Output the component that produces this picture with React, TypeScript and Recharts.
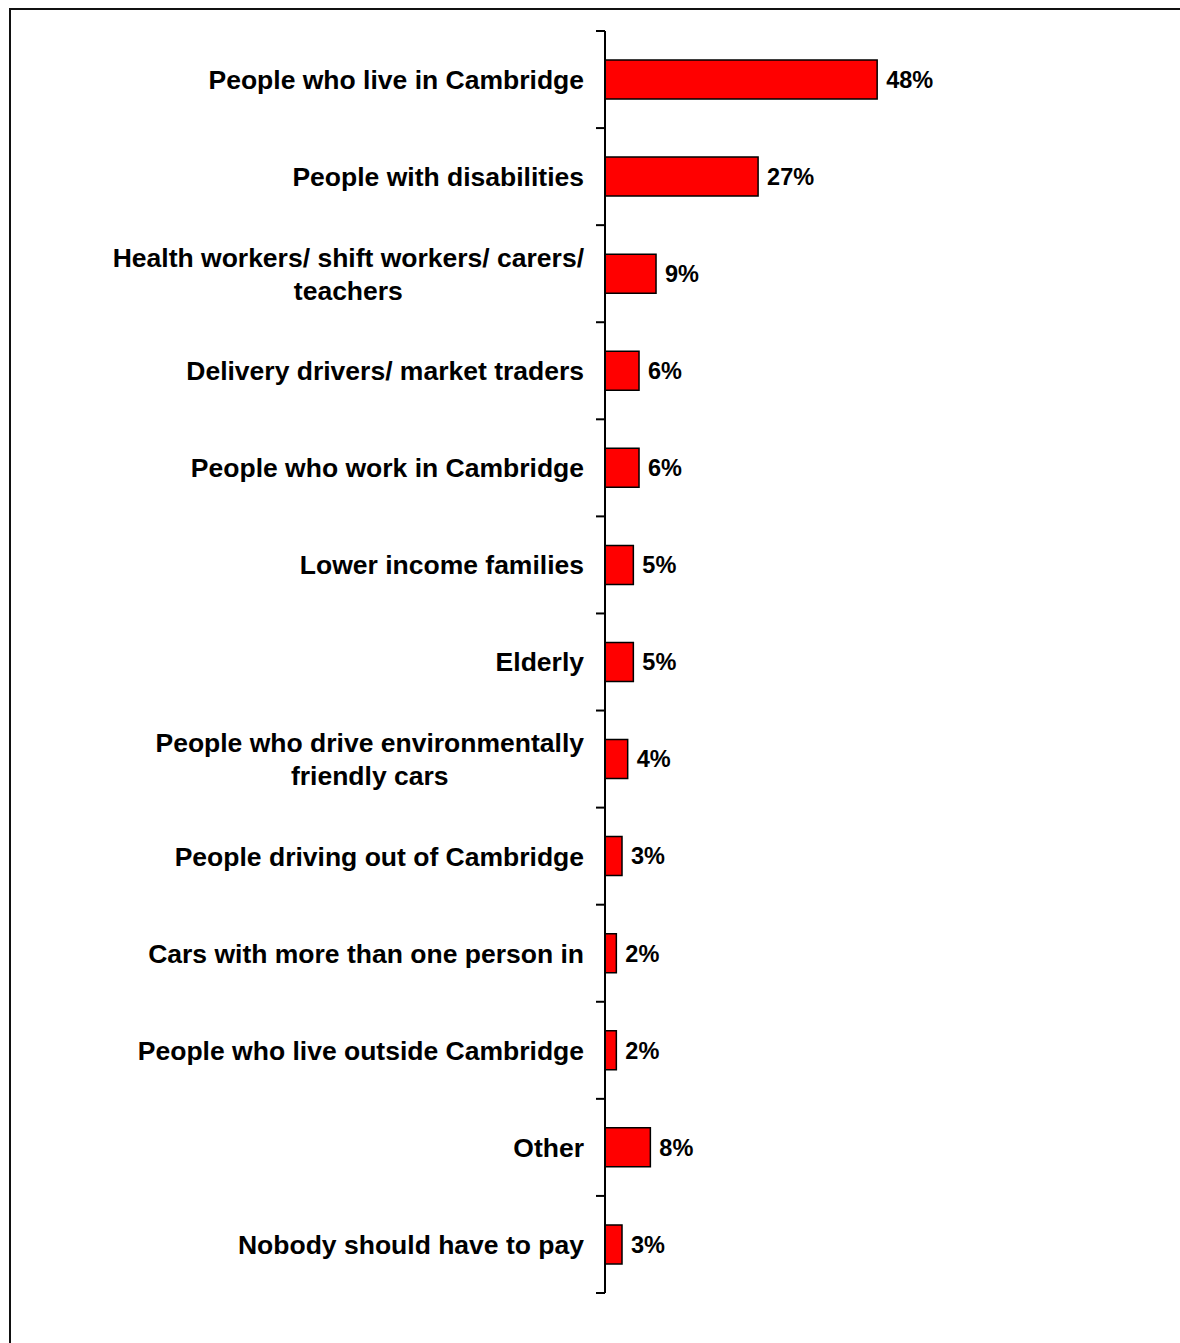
import React from 'react'
import { BarChart, Bar, XAxis, YAxis, LabelList } from 'recharts'

// categories, top to bottom ("\n" marks a line break in the axis label)
const categories = [
  'People who live in Cambridge',
  'People with disabilities',
  'Health workers/ shift workers/ carers/\nteachers',
  'Delivery drivers/ market traders',
  'People who work in Cambridge',
  'Lower income families',
  'Elderly',
  'People who drive environmentally\nfriendly cars',
  'People driving out of Cambridge',
  'Cars with more than one person in',
  'People who live outside Cambridge',
  'Other',
  'Nobody should have to pay',
]

const values = [48, 27, 9, 6, 6, 5, 5, 4, 3, 2, 2, 8, 3]

const chartData = categories.map((name, i) => ({ name, value: values[i] }))

const FONT = '"Liberation Sans", Arial, Helvetica, sans-serif'
const FONT_SIZE = 26.5
const VALUE_FONT_SIZE = 23.5
const TICK_SIZE = 9
const TICK_MARGIN = 12
const LINE_H = 33

let ctx: CanvasRenderingContext2D | null = null
function textWidth(s: string) {
  if (!ctx) {
    const c = document.createElement('canvas')
    ctx = c.getContext('2d')
  }
  if (!ctx) return s.length * FONT_SIZE * 0.6
  ctx.font = `bold ${FONT_SIZE}px ${FONT}`
  return ctx.measureText(s).width
}

function CategoryTick(props: any) {
  const { x, y, payload, index } = props
  const lines = String(payload.value).split('\n')
  const half = payload.offset ?? 0
  const lx1 = x + TICK_MARGIN
  const lx2 = lx1 + TICK_SIZE
  const isLast = index === categories.length - 1
  const multi = lines.length > 1
  const maxW = multi ? Math.max(...lines.map(textWidth)) : 0
  const cx = x - maxW / 2
  const startY = y - ((lines.length - 1) * LINE_H) / 2

  return (
    <g>
      <line x1={lx1} x2={lx2} y1={y - half} y2={y - half} stroke="#000" strokeWidth={2} />
      {isLast && <line x1={lx1} x2={lx2} y1={y + half} y2={y + half} stroke="#000" strokeWidth={2} />}
      <text
        fontFamily={FONT}
        fontWeight="bold"
        fontSize={FONT_SIZE}
        fill="#000"
        textAnchor={multi ? 'middle' : 'end'}
      >
        {lines.map((l, i) => (
          <tspan key={i} x={multi ? cx : x} y={startY + i * LINE_H} dy="0.355em">
            {l}
          </tspan>
        ))}
      </text>
    </g>
  )
}

export default function App() {
  return (
    <div
      style={{
        position: 'absolute',
        left: 0,
        top: 0,
        width: 1180,
        height: 1343,
        overflow: 'hidden',
        background: '#fff',
      }}
    >
      {/* frame: only top and left edges fall inside the picture */}
      <div
        style={{
          position: 'absolute',
          left: 9,
          top: 8,
          width: 1300,
          height: 1500,
          border: '2px solid #111',
        }}
      />
      <div style={{ position: 'absolute', left: 0, top: 0 }}>
        <BarChart
          width={1180}
          height={1343}
          data={chartData}
          layout="vertical"
          margin={{ top: 31, right: 8, bottom: 50, left: 0 }}
        >
          <XAxis type="number" domain={[0, 100]} hide />
          <YAxis
            type="category"
            dataKey="name"
            width={605}
            interval={0}
            axisLine={{ stroke: '#000', strokeWidth: 2 }}
            tickLine={false}
            tickSize={TICK_SIZE}
            tickMargin={TICK_MARGIN}
            tick={<CategoryTick />}
          />
          <Bar
            dataKey="value"
            fill="#FF0000"
            stroke="#000"
            strokeWidth={1.5}
            barSize={39}
            isAnimationActive={false}
          >
            <LabelList
              dataKey="value"
              position="right"
              offset={9}
              formatter={(v: any) => `${v}%`}
              fill="#000"
              fontFamily={FONT}
              fontWeight="bold"
              fontSize={VALUE_FONT_SIZE}
            />
          </Bar>
        </BarChart>
      </div>
    </div>
  )
}
